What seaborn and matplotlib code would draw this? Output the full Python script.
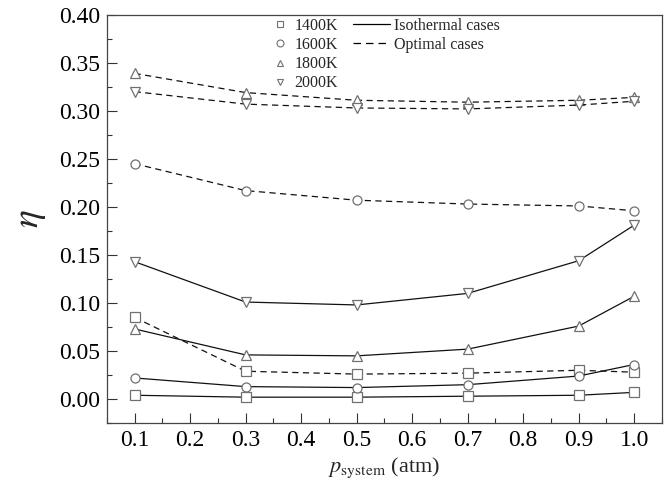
import matplotlib
matplotlib.use("Agg")
import matplotlib.pyplot as plt
from matplotlib.lines import Line2D
from matplotlib.ticker import MultipleLocator
import seaborn as sns
import pandas as pd

# Data
pressure = [0.1, 0.3, 0.5, 0.7, 0.9, 1.0]
temps = ["1400K", "1600K", "1800K", "2000K"]

iso_1400 = [0.004, 0.002, 0.002, 0.003, 0.004, 0.007]
iso_1600 = [0.022, 0.013, 0.012, 0.015, 0.024, 0.036]
iso_1800 = [0.073, 0.046, 0.045, 0.052, 0.076, 0.107]
iso_2000 = [0.143, 0.101, 0.098, 0.110, 0.144, 0.181]

opt_1400 = [0.085, 0.029, 0.026, 0.027, 0.030, 0.028]
opt_1600 = [0.245, 0.217, 0.207, 0.203, 0.201, 0.196]
opt_1800 = [0.339, 0.319, 0.311, 0.309, 0.311, 0.314]
opt_2000 = [0.320, 0.307, 0.303, 0.302, 0.306, 0.310]

iso = {"1400K": iso_1400, "1600K": iso_1600, "1800K": iso_1800, "2000K": iso_2000}
opt = {"1400K": opt_1400, "1600K": opt_1600, "1800K": opt_1800, "2000K": opt_2000}

rows = []
for t in temps:
    for p, v in zip(pressure, iso[t]):
        rows.append({"p": p, "eta": v, "T": t, "case": "Isothermal cases"})
    for p, v in zip(pressure, opt[t]):
        rows.append({"p": p, "eta": v, "T": t, "case": "Optimal cases"})
df = pd.DataFrame(rows)

sns.set_style("ticks")
plt.rcParams["font.family"] = ["Liberation Serif", "DejaVu Serif"]
plt.rcParams["mathtext.fontset"] = "stix"

markers = {"1400K": "s", "1600K": "o", "1800K": "^", "2000K": "v"}
dashes = {"Isothermal cases": "-", "Optimal cases": (0, (5, 3.5))}
edge = "#707070"

fig = plt.figure(figsize=(6.72, 4.92), dpi=100)
ax = fig.add_axes([0.159, 0.140, 0.826, 0.830])

for (t, case), sub in df.groupby(["T", "case"]):
    sns.lineplot(data=sub, x="p", y="eta", ax=ax, color="#111111", linewidth=0.9,
                 linestyle=dashes[case], marker=markers[t], markersize=6.5,
                 markerfacecolor="white", markeredgecolor=edge, markeredgewidth=0.9,
                 legend=False)

ax.set_xlim(0.05, 1.05)
ax.set_ylim(-0.025, 0.40)
ax.xaxis.set_minor_locator(MultipleLocator(0.05))
ax.yaxis.set_major_locator(MultipleLocator(0.05))
ax.yaxis.set_minor_locator(MultipleLocator(0.025))
ax.set_xticks([0.1, 0.2, 0.3, 0.4, 0.5, 0.6, 0.7, 0.8, 0.9, 1.0])
ax.set_xticklabels(["0.1", "0.2", "0.3", "0.4", "0.5", "0.6", "0.7", "0.8", "0.9", "1.0"])
ax.yaxis.set_major_formatter(plt.FormatStrFormatter("%.2f"))
ax.tick_params(which="major", direction="in", length=7, width=0.8, labelsize=17,
               colors="#333333", labelcolor="black", pad=5)
ax.tick_params(which="minor", direction="in", length=3.5, width=0.8, colors="#333333")
for s in ax.spines.values():
    s.set_linewidth(0.9)
    s.set_color("#444444")

ax.set_xlabel(r"$p_{\mathrm{system}}$ (atm)", fontsize=16, labelpad=3)
ax.set_ylabel(r"$\eta$", fontsize=27, labelpad=8)

# marker legend (temperatures)
mhandles = [Line2D([], [], linestyle="", marker=markers[t], markersize=5,
                   markerfacecolor="white", markeredgecolor=edge, markeredgewidth=0.8)
            for t in temps]
leg1 = ax.legend(mhandles, temps, loc="upper left", bbox_to_anchor=(0.283, 1.016),
                 frameon=False, fontsize=11.5, handlelength=0.8, handletextpad=0.5,
                 labelspacing=0.2, borderaxespad=0.2)
ax.add_artist(leg1)

# line-style legend (cases)
lhandles = [Line2D([], [], color="black", linestyle="-", linewidth=0.9),
            Line2D([], [], color="black", linestyle=(0, (6, 4)), linewidth=0.9)]
ax.legend(lhandles, ["Isothermal cases", "Optimal cases"], loc="upper left",
          bbox_to_anchor=(0.426, 1.016), frameon=False, fontsize=11.5,
          handlelength=2.35, handletextpad=0.2, labelspacing=0.2, borderaxespad=0.2)

fig.savefig("out.png", dpi=100)
